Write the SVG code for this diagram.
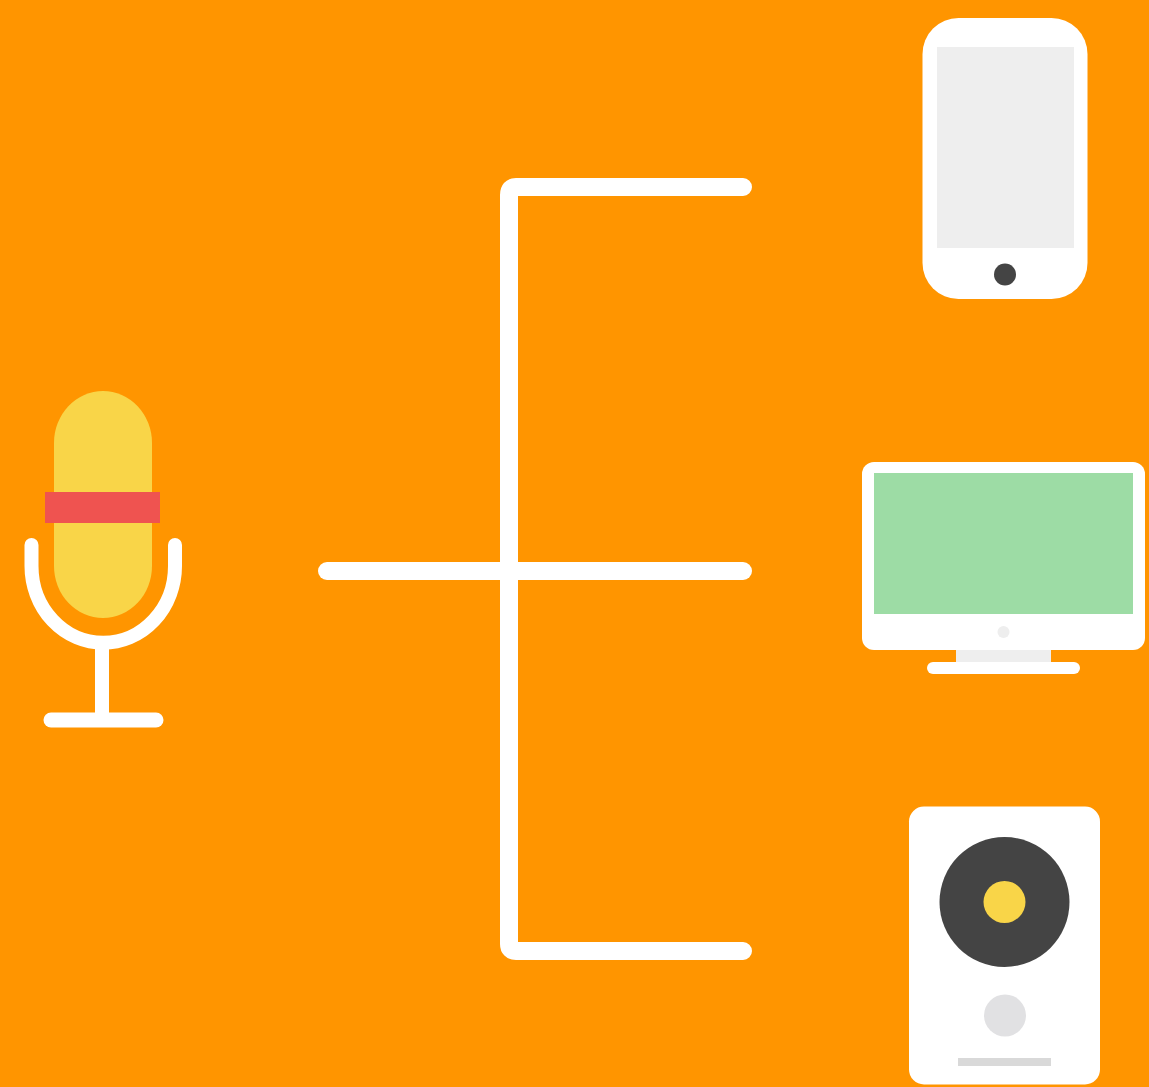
<svg xmlns="http://www.w3.org/2000/svg" width="1149" height="1087" viewBox="0 0 1149 1087">
<style>
.w{fill:#fff}
.l{fill:none;stroke:#fff;stroke-linecap:round}
</style>
<rect width="1149" height="1087" fill="#ff9500"/>
<g id="connectors">
<path class="l" stroke-width="18" stroke-linejoin="round" d="M743 187H516Q509 187 509 195V944Q509 951 516 951H743"/>
<path class="l" stroke-width="18" d="M327 571H743"/>
</g>
<g id="microphone">
<rect x="54" y="391" width="98" height="227" rx="49" ry="52" fill="#f9d548"/>
<rect x="45" y="492" width="115" height="31" fill="#ef5350"/>
<path class="l" stroke-width="14" d="M31.500 545V566A71.500 76.500 0 0 0 175 566V545"/>
<path d="M102 645V720" stroke="#fff" stroke-width="14" fill="none"/>
<path class="l" stroke-width="15" d="M51 720H156"/>
</g>
<g id="phone">
<rect class="w" x="922.500" y="18" width="165" height="281" rx="36"/>
<rect x="937" y="47" width="137" height="201" fill="#eee"/>
<circle cx="1005" cy="274.500" r="11" fill="#444"/>
</g>
<g id="monitor">
<rect x="956" y="648" width="95" height="16" fill="#eee"/>
<rect class="w" x="862" y="462" width="283" height="188" rx="12"/>
<rect x="874" y="473" width="259" height="141" fill="#9ddca5"/>
<circle cx="1003.500" cy="632" r="6" fill="#eee"/>
<rect class="w" x="927" y="662" width="153" height="12" rx="6"/>
</g>
<g id="speaker">
<rect class="w" x="909" y="806.500" width="191" height="278" rx="15"/>
<circle cx="1004.500" cy="902" r="65" fill="#444"/>
<circle cx="1004.500" cy="902" r="21" fill="#f9d548"/>
<circle cx="1005" cy="1015.500" r="21" fill="#e1e1e3"/>
<rect x="958" y="1058" width="93" height="8" fill="#d9d9d9"/>
</g>
</svg>
